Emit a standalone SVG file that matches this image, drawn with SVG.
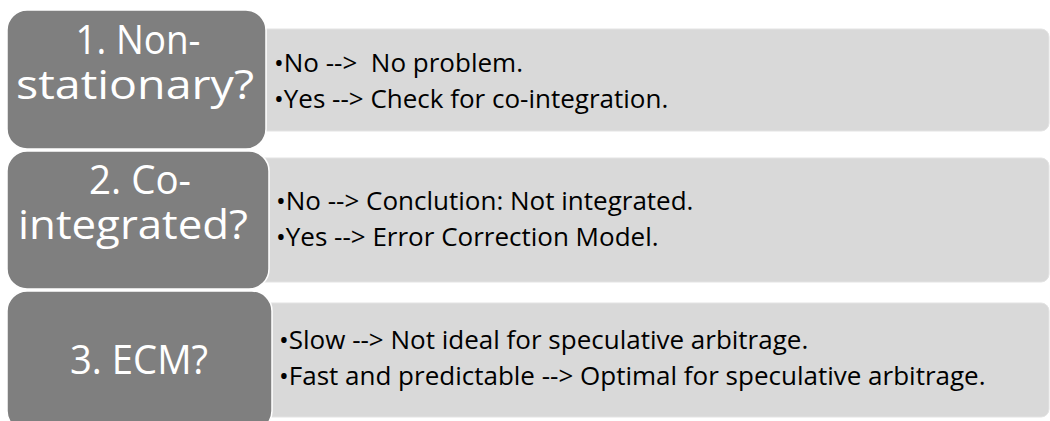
<svg xmlns="http://www.w3.org/2000/svg" width="1050" height="421" viewBox="0 0 1050 421">
<style>
.light{fill:#d9d9d9;stroke:#e3e3e3;stroke-width:1}
.dark{fill:#7f7f7f;stroke:#ffffff;stroke-width:1.5}
.ht{font-family:"Open Sans","Liberation Sans",sans-serif;font-size:40px;fill:#ffffff;text-anchor:middle}
.bt{font-family:"Open Sans","Liberation Sans",sans-serif;font-size:26px;fill:#000000;white-space:pre}
</style>
<rect width="1050" height="421" fill="#ffffff"/>
<g id="step1">
<rect class="light" x="240" y="29" width="809" height="102" rx="8"/>
<rect class="dark" x="7" y="10" width="259" height="139" rx="20"/>
<text class="ht" x="138" y="54" textLength="125" lengthAdjust="spacingAndGlyphs">1. Non-</text>
<text class="ht" x="135" y="99" textLength="238" lengthAdjust="spacingAndGlyphs">stationary?</text>
<text class="bt" x="274" y="72">•No -->  No problem.</text>
<text class="bt" x="274" y="108">•Yes --> Check for co-integration.</text>
</g>
<g id="step2">
<rect class="light" x="240" y="158" width="809" height="124" rx="8"/>
<rect class="dark" x="7" y="151" width="262" height="138" rx="20"/>
<text class="ht" x="140" y="194" textLength="102" lengthAdjust="spacingAndGlyphs">2. Co-</text>
<text class="ht" x="133" y="239" textLength="230" lengthAdjust="spacingAndGlyphs">integrated?</text>
<text class="bt" x="276" y="210">•No --> Conclution: Not integrated.</text>
<text class="bt" x="276" y="246">•Yes --> Error Correction Model.</text>
</g>
<g id="step3">
<rect class="light" x="240" y="303" width="809" height="114" rx="8"/>
<rect class="dark" x="7" y="291" width="265" height="140" rx="20"/>
<text class="ht" x="139" y="374" textLength="138" lengthAdjust="spacingAndGlyphs">3. ECM?</text>
<text class="bt" x="279" y="349">•Slow --> Not ideal for speculative arbitrage.</text>
<text class="bt" x="279" y="385">•Fast and predictable --> Optimal for speculative arbitrage.</text>
</g>
<g id="connectors"></g>
</svg>
